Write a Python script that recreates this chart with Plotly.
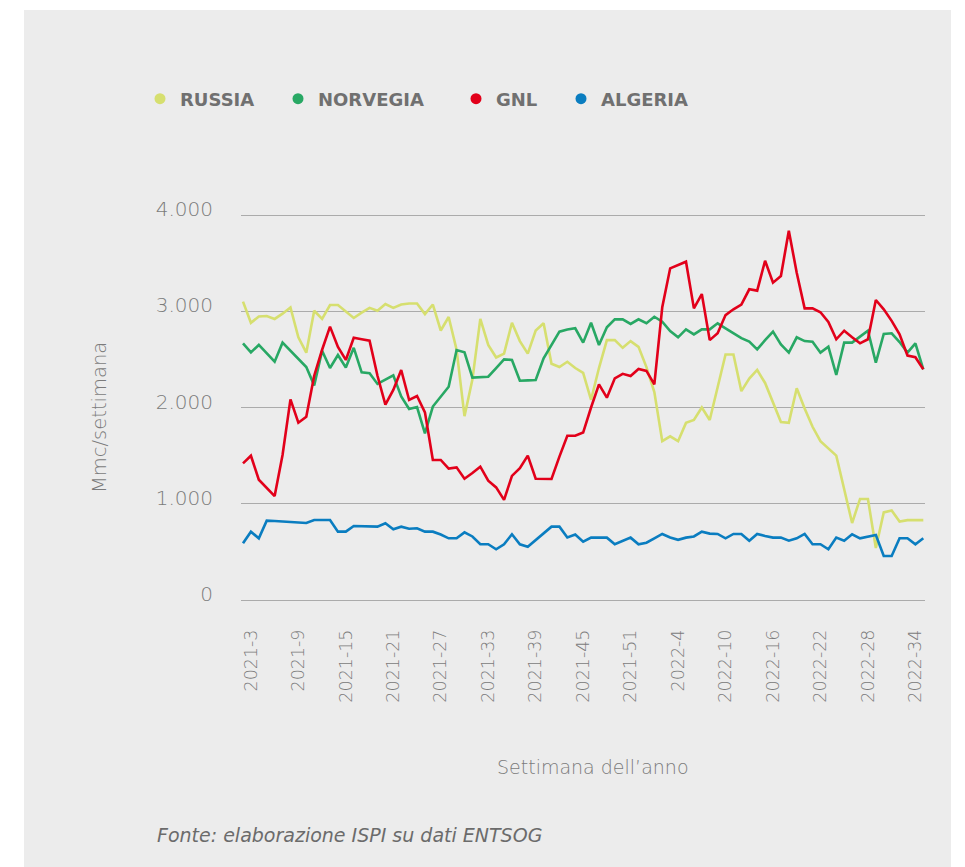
import plotly.graph_objects as go

# ---- categories (week labels) ----
weeks_2021 = list(range(2, 53))
weeks_2022 = list(range(0, 36))
categories = [f"2021-{w}" for w in weeks_2021] + [f"2022-{w}" for w in weeks_2022]
tick_labels = categories[1::6]

y_ticks = [0, 1000, 2000, 3000, 4000]

series_names = ["RUSSIA", "NORVEGIA", "GNL", "ALGERIA"]
series_colors = ["#d6df6f", "#28a864", "#e2001a", "#0a7dc0"]

russia = [3100, 2880, 2945, 2950, 2920, 2975, 3040, 2730, 2570, 3005,
          2920, 3065, 3065, 3000, 2930, 2985, 3035, 3005, 3075, 3035,
          3070, 3080, 3080, 2970, 3070, 2800, 2940, 2600, 1910, 2290,
          2920, 2650, 2520, 2560, 2880, 2690, 2560, 2800, 2875, 2455,
          2420, 2475, 2410, 2360, 2080, 2410, 2700, 2700, 2620, 2690,
          2630, 2420, 2160, 1650, 1700, 1650, 1840, 1870, 2000, 1870,
          2200, 2550, 2550, 2170, 2300, 2390, 2255, 2050, 1850, 1840,
          2200, 1990, 1800, 1650, 1575, 1500, 1150, 800, 1050, 1050,
          540, 910, 930, 815, 830, 830, 830]

norvegia = [2667, 2573, 2650, 2560, 2476, 2674, 2590, 2505, 2420, 2230,
            2590, 2410, 2545, 2415, 2620, 2365, 2355, 2245, 2290, 2335,
            2115, 1985, 2005, 1730, 2010, 2110, 2216, 2597, 2573, 2310,
            2315, 2320, 2410, 2500, 2494, 2278, 2282, 2286, 2511, 2650,
            2788, 2810, 2823, 2674, 2881, 2649, 2833, 2916, 2916, 2868,
            2916, 2875, 2943, 2892, 2795, 2729, 2812, 2760, 2812, 2812,
            2875, 2823, 2771, 2720, 2684, 2604, 2700, 2788, 2656, 2570,
            2729, 2690, 2684, 2570, 2632, 2338, 2674, 2674, 2736, 2798,
            2466, 2764, 2771, 2680, 2570, 2667, 2397]

gnl = [1420, 1499, 1250, 1160, 1080, 1506, 2085, 1842, 1904, 2330,
       2600, 2840, 2630, 2494, 2725, 2710, 2694, 2330, 2030, 2182,
       2390, 2078, 2119, 1950, 1455, 1455, 1365, 1378, 1260, 1320,
       1385, 1240, 1170, 1040, 1290, 1370, 1500, 1260, 1257, 1257,
       1490, 1707, 1707, 1740, 2000, 2240, 2102, 2303, 2350, 2327,
       2400, 2380, 2240, 3041, 3446, 3480, 3515, 3030, 3179, 2700,
       2771, 2960, 3020, 3070, 3228, 3214, 3525, 3297, 3366, 3837,
       3400, 3030, 3030, 2990, 2890, 2709, 2798, 2730, 2667, 2709,
       3117, 3020, 2900, 2760, 2540, 2522, 2397]

algeria = [589, 710, 641, 824, 820, 815, 810, 805, 800, 831,
           831, 831, 710, 710, 769, 767, 765, 762, 797, 735,
           762, 740, 745, 710, 710, 680, 641, 641, 703, 660,
           579, 579, 527, 579, 683, 579, 554, 620, 690, 762,
           762, 650, 680, 606, 648, 648, 648, 579, 613, 648,
           579, 595, 640, 686, 650, 625, 648, 660, 710, 690,
           686, 641, 686, 686, 616, 686, 665, 648, 648, 616,
           641, 686, 579, 579, 527, 648, 616, 683, 641, 660,
           675, 457, 457, 641, 641, 579, 641]

series_values = [russia, norvegia, gnl, algeria]

# ---- layout geometry (page pixels; the page body has an 8px margin) ----
OFF = 8
W, H = 965 - OFF, 867 - OFF
EDGE = 3  # extra pixels above/below so the edge gridlines are drawn
PL, PR, PT, PB = 241, 925, 215 - EDGE, 600 + EDGE  # plot area in page pixels
pw, ph = PR - PL, PB - PT
Y_PAD = EDGE * 1000 / 96.25


def px_x(x):
    return (x - PL) / pw


def px_y(y):
    return (PB - y) / ph


FONT = "DejaVu Sans"
GREY_TXT = "#7b7b7b"

fig = go.Figure()

for name, vals, col in zip(series_names, series_values, series_colors):
    fig.add_trace(go.Scatter(
        x=categories, y=vals, mode="lines", name=name,
        line=dict(color=col, width=2.6), showlegend=False,
        hovertemplate="%{x}: %{y}<extra>" + name + "</extra>",
    ))

legend_ids = ["legend", "legend2", "legend3", "legend4"]
legend_dot_px = [159, 297, 475, 580]
for name, col, lid in zip(series_names, series_colors, legend_ids):
    fig.add_trace(go.Scatter(
        x=[None], y=[None], mode="markers", name=name,
        marker=dict(color=col, size=11), legend=lid, showlegend=True,
    ))

legend_common = dict(
    orientation="h", yanchor="middle", xanchor="left",
    bgcolor="rgba(0,0,0,0)", borderwidth=0,
    font=dict(family=FONT, size=18, color="#707070", weight="bold"),
)
layout_legends = {}
for lid, dx in zip(legend_ids, legend_dot_px):
    layout_legends[lid] = dict(legend_common, x=px_x(dx - 19), y=px_y(99))

fig.update_layout(
    width=W, height=H,
    margin=dict(l=PL - OFF, r=W - (PR - OFF), t=PT - OFF, b=H - (PB - OFF), pad=0),
    paper_bgcolor="white",
    plot_bgcolor="rgba(0,0,0,0)",
    separators=",.",
    font=dict(family=FONT, color=GREY_TXT),
    **layout_legends,
    xaxis=dict(
        type="category", categoryorder="array", categoryarray=categories,
        range=[-0.253, 86.215],
        tickmode="array", tickvals=tick_labels, ticktext=tick_labels,
        tickangle=-90, tickfont=dict(family=FONT, size=17.5, color=GREY_TXT, weight=300),
        showgrid=False, showline=False, zeroline=False, ticks="",
        ticklabelstandoff=25 - EDGE,
    ),
    yaxis=dict(
        range=[-Y_PAD, 4000 + Y_PAD], tickmode="array", tickvals=y_ticks,
        tickformat=",d",
        tickfont=dict(family=FONT, size=20, color=GREY_TXT, weight=300),
        showgrid=True, gridcolor="#ababab", gridwidth=1.3,
        showline=False, zeroline=False, ticks="",
        ticklabelstandoff=27, ticklabelshift=-6,
    ),
    shapes=[dict(
        type="rect", xref="paper", yref="paper", layer="below",
        x0=px_x(24), x1=px_x(951), y0=px_y(880), y1=px_y(10),
        fillcolor="#ececec", line=dict(width=0),
    )],
    annotations=[
        dict(text="Mmc/settimana", xref="paper", yref="paper",
             x=px_x(99), y=px_y(418), xanchor="center", yanchor="middle",
             textangle=-90, showarrow=False,
             font=dict(family=FONT, size=19.5, color=GREY_TXT, weight=300)),
        dict(text="Settimana dell\u2019anno", xref="paper", yref="paper",
             x=px_x(593), y=px_y(767), xanchor="center", yanchor="middle",
             showarrow=False,
             font=dict(family=FONT, size=19, color=GREY_TXT, weight=300)),
        dict(text="<i>Fonte: elaborazione ISPI su dati ENTSOG</i>",
             xref="paper", yref="paper",
             x=px_x(155), y=px_y(835), xanchor="left", yanchor="middle",
             showarrow=False,
             font=dict(family=FONT, size=19, color="#6b6b6b", weight=300)),
    ],
)

fig.write_html("out.html")
